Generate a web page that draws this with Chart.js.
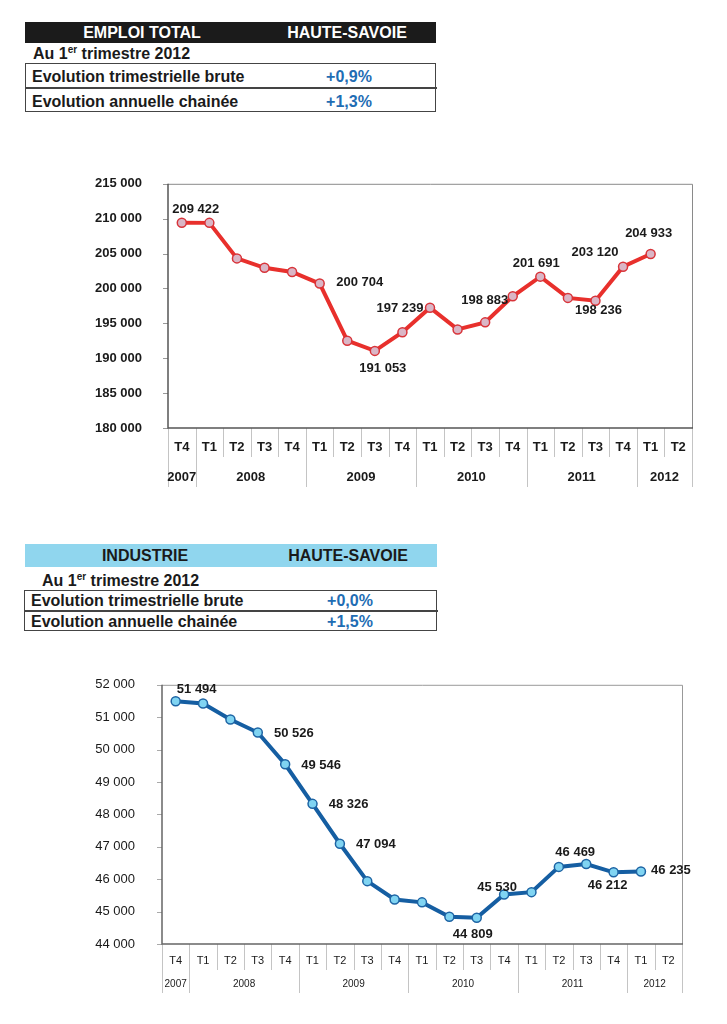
<!DOCTYPE html>
<html><head><meta charset="utf-8">
<script src="https://cdn.jsdelivr.net/npm/chart.js@4.4.1/dist/chart.umd.min.js"></script>
<style>
body{margin:0;width:727px;height:1024px;background:#fff;position:relative;overflow:hidden;font-family:"Liberation Sans",Arial,sans-serif;color:#1a1a1a}
.a{position:absolute;white-space:nowrap}
.t{font-weight:bold;font-size:16px}
.c{text-align:center}
.v{color:#1f6db4}
sup{font-size:10px;vertical-align:6px;line-height:0}
canvas{position:absolute;left:0}
</style></head><body>
<!-- header 1 -->
<div class="a" style="left:25px;top:22px;width:411px;height:21px;background:#1b1b1b"></div>
<div class="a t c" style="left:62px;top:22px;width:160px;line-height:21px;color:#fff">EMPLOI TOTAL</div>
<div class="a t c" style="left:267px;top:22px;width:160px;line-height:21px;color:#fff">HAUTE-SAVOIE</div>
<div class="a t" style="left:33px;top:44px;line-height:20px">Au 1<sup>er</sup> trimestre 2012</div>
<div class="a" style="left:25px;top:63px;width:409px;height:47px;border:1.5px solid #444"></div>
<div class="a" style="left:25px;top:87px;width:412px;height:1.5px;background:#444"></div>
<div class="a t" style="left:32px;top:66px;line-height:21px">Evolution trimestrielle brute</div>
<div class="a t c v" style="left:300px;top:66px;width:98px;line-height:21px">+0,9%</div>
<div class="a t" style="left:32px;top:91px;line-height:21px">Evolution annuelle chainée</div>
<div class="a t c v" style="left:300px;top:91px;width:98px;line-height:21px">+1,3%</div>
<canvas id="c1" width="727" height="350" style="top:150px"></canvas>
<!-- header 2 -->
<div class="a" style="left:25px;top:544px;width:412px;height:23px;background:#90d6ee"></div>
<div class="a t c" style="left:65px;top:544px;width:160px;line-height:23px">INDUSTRIE</div>
<div class="a t c" style="left:268px;top:544px;width:160px;line-height:23px">HAUTE-SAVOIE</div>
<div class="a t" style="left:42px;top:571px;line-height:20px">Au 1<sup>er</sup> trimestre 2012</div>
<div class="a" style="left:24px;top:590px;width:411px;height:39px;border:1.5px solid #444"></div>
<div class="a" style="left:24px;top:610px;width:414px;height:1.5px;background:#444"></div>
<div class="a t" style="left:31px;top:591px;line-height:20px">Evolution trimestrielle brute</div>
<div class="a t c v" style="left:301px;top:591px;width:98px;line-height:20px">+0,0%</div>
<div class="a t" style="left:31px;top:612px;line-height:20px">Evolution annuelle chainée</div>
<div class="a t c v" style="left:301px;top:612px;width:98px;line-height:20px">+1,5%</div>
<canvas id="c2" width="727" height="360" style="top:650px"></canvas>
<script>
// ---- data ----
const quarterLabels = ['T4','T1','T2','T3','T4','T1','T2','T3','T4','T1','T2','T3','T4','T1','T2','T3','T4','T1','T2'];
const yearLabels = ['2007','2008','2009','2010','2011','2012'];
const yearFirstIdx = [0,1,5,9,13,17];
const yearLastIdx = [0,4,8,12,16,18];
const emploiValues = [209422,209400,204310,202960,202370,200704,192510,191053,193720,197239,194130,195140,198883,201691,198650,198236,203120,204933];
const emploiLabeled = [0,5,7,9,12,13,15,16,17];
const emploiTicks = [180000,215000,5000];
const industrieValues = [51494,51424,50930,50526,49546,48326,47094,45940,45375,45285,44840,44809,45530,45600,46380,46469,46212,46235];
const industrieLabeled = [0,3,4,5,6,11,12,15,16,17];
const industrieTicks = [44000,52000,1000];

// ---- styles ----
const FONT = '"Liberation Sans", Arial, sans-serif';
const emploiLabelOffsets = {0:[14,-13],5:[40,-1],7:[8,18],9:[-30,1],12:[-28,4],13:[-4,-13],15:[3,10],16:[-28,-14],17:[-2,-21]};
const industrieLabelOffsets = {0:[21,-12],3:[36,1],4:[36,1],5:[36,1],6:[36,1],11:[-4,17],12:[-7,-7],15:[-11,-12],16:[-6,13],17:[30,-1]};

function fmt(v){return String(v).replace(/\B(?=(\d{3})+(?!\d))/g,' ');}

function decor(st){
  return {
    id:'decor',
    beforeDatasetsDraw(chart){
      const ctx=chart.ctx, a=chart.chartArea, x=chart.scales.x, y=chart.scales.y;
      const n=quarterLabels.length, w=(a.right-a.left)/n;
      ctx.save();
      // y tick marks
      ctx.strokeStyle=st.tickMark; ctx.lineWidth=1;
      y.ticks.forEach(t=>{const py=Math.round(y.getPixelForValue(t.value))+0.5;ctx.beginPath();ctx.moveTo(a.left-5,py);ctx.lineTo(a.left,py);ctx.stroke();});
      // separators
      ctx.strokeStyle=st.sep; ctx.lineWidth=1;
      for(let i=0;i<=n;i++){
        const px=Math.round(a.left+i*w)+0.5;
        const isYear = i===0 || i===n || yearLastIdx.includes(i-1);
        ctx.beginPath();ctx.moveTo(px,a.bottom);ctx.lineTo(px,a.bottom+(isYear?st.yearDepth:st.tDepth));ctx.stroke();
      }
      // box
      ctx.strokeStyle=st.boxLight; ctx.lineWidth=1;
      ctx.beginPath();ctx.moveTo(a.left,a.top+0.5);ctx.lineTo(a.right+0.5,a.top+0.5);ctx.lineTo(a.right+0.5,a.bottom);ctx.stroke();
      ctx.strokeStyle=st.boxDark; ctx.lineWidth=1.5;
      ctx.beginPath();ctx.moveTo(a.left,a.top);ctx.lineTo(a.left,a.bottom);ctx.lineTo(a.right+1,a.bottom);ctx.stroke();
      // quarter labels
      ctx.fillStyle='#1a1a1a'; ctx.textAlign='center'; ctx.textBaseline='middle';
      ctx.font=st.tFont;
      quarterLabels.forEach((q,i)=>ctx.fillText(q,x.getPixelForValue(i),a.bottom+st.tOff));
      ctx.font=st.yFont;
      yearLabels.forEach((yl,k)=>{
        const cx=(x.getPixelForValue(yearFirstIdx[k])+x.getPixelForValue(yearLastIdx[k]))/2;
        ctx.fillText(yl,cx,a.bottom+st.yOff);
      });
      ctx.restore();
    },
    afterDatasetsDraw(chart){
      const ctx=chart.ctx, meta=chart.getDatasetMeta(0);
      const vals=chart.data.datasets[0].data;
      ctx.save();
      ctx.font='bold 13px '+FONT; ctx.fillStyle='#1a1a1a'; ctx.textAlign='center'; ctx.textBaseline='middle';
      st.labeled.forEach(i=>{
        const p=meta.data[i], o=st.offsets[i];
        ctx.fillText(fmt(vals[i]),p.x+o[0],p.y+o[1]);
      });
      ctx.restore();
    }
  };
}

function makeChart(id, values, ticks, st){
  return new Chart(document.getElementById(id),{
    type:'line',
    data:{labels:quarterLabels,datasets:[{data:values,borderColor:st.line,borderWidth:4,
      pointRadius:4.5,pointHoverRadius:4.5,pointBackgroundColor:st.pointFill,pointBorderColor:st.pointBorder,pointBorderWidth:1.5,
      tension:0,fill:false}]},
    options:{responsive:false,animation:false,devicePixelRatio:1,
      layout:{autoPadding:false,padding:st.padding},
      plugins:{legend:{display:false},tooltip:{enabled:false}},
      scales:{
        x:{offset:true,ticks:{display:false},grid:{display:false,drawTicks:false},border:{display:false},
          afterFit(s){s.height=st.xHeight;}},
        y:{min:ticks[0],max:ticks[1],
          ticks:{stepSize:ticks[2],callback:v=>fmt(v),font:st.yTickFont,color:'#1a1a1a',padding:st.yPad},
          grid:{display:false,drawTicks:false},border:{display:false},
          afterFit(s){s.width=st.yWidth;}}
      }},
    plugins:[decor(st)]
  });
}

makeChart('c1', emploiValues, emploiTicks, {
  line:'#e8302c', pointFill:'#dab6c6', pointBorder:'#d8343a',
  padding:{top:17,right:35,left:0,bottom:0}, xHeight:72, yWidth:168, yPad:26,
  yTickFont:{family:FONT,size:13,weight:'bold'},
  tFont:'bold 13px '+FONT, yFont:'bold 13px '+FONT, tOff:19, yOff:49, tDepth:29, yearDepth:59,
  sep:'#c4c4c4', tickMark:'#999', boxLight:'#8a8a8a', boxDark:'#555',
  labeled:emploiLabeled, offsets:emploiLabelOffsets
});
makeChart('c2', industrieValues, industrieTicks, {
  line:'#155ea2', pointFill:'#80d4f2', pointBorder:'#1d64a4',
  padding:{top:30,right:45,left:0,bottom:0}, xHeight:66, yWidth:162, yPad:27,
  yTickFont:{family:FONT,size:13,weight:'normal'},
  tFont:'11px '+FONT, yFont:'10px '+FONT, tOff:17, yOff:40, tDepth:26, yearDepth:49,
  sep:'#c4c4c4', tickMark:'#aaa', boxLight:'#999', boxDark:'#666',
  labeled:industrieLabeled, offsets:industrieLabelOffsets
});
</script>
</body></html>
